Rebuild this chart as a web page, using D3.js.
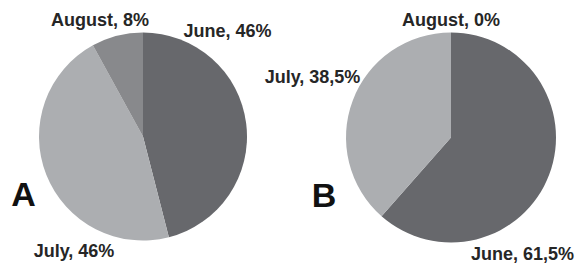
<!DOCTYPE html>
<html><head><meta charset="utf-8">
<script src="https://cdn.jsdelivr.net/npm/d3@7"></script>
<style>body{margin:0;background:#fff}svg{display:block}</style>
</head><body>
<script>
const months = ["June", "July", "August"];
const valuesA = [46, 46, 8];
const valuesB = [61.5, 38.5, 0];
const labelsA = ["June, 46%", "July, 46%", "August, 8%"];
const labelsB = ["June, 61,5%", "July, 38,5%", "August, 0%"];
const panelNames = ["A", "B"];

const W = 577, H = 266;
const svg = d3.select("body").append("svg").attr("width", W).attr("height", H);
const color = d3.scaleOrdinal().domain(months).range(["#67686c", "#acaeb1", "#88898c"]);
const pie = d3.pie().sort(null).value(d => d.v);

const panels = [
  {name: panelNames[0], values: valuesA, labels: labelsA, cx: 143, cy: 136.5, r: 104,
   letter: [23.5, 206],
   pos: [[227.5, 36.5], [74, 257], [100, 25.5]]},
  {name: panelNames[1], values: valuesB, labels: labelsB, cx: 451, cy: 137.5, r: 105,
   letter: [324, 206.5],
   pos: [[522.5, 260], [312.5, 83], [451, 26]]}
];

panels.forEach(p => {
  const data = months.map((m, i) => ({m, v: p.values[i]}));
  const arc = d3.arc().innerRadius(0).outerRadius(p.r);
  const g = svg.append("g").attr("transform", `translate(${p.cx},${p.cy})`);
  g.selectAll("path").data(pie(data)).join("path")
    .attr("d", arc).attr("fill", d => color(d.data.m));
  svg.append("text").attr("x", p.letter[0]).attr("y", p.letter[1])
    .attr("text-anchor", "middle")
    .style("font-family", "Liberation Sans, Arial, sans-serif")
    .style("font-weight", "bold").style("font-size", "34px").attr("fill", "#111")
    .text(p.name);
  p.labels.forEach((t, i) => {
    svg.append("text").attr("x", p.pos[i][0]).attr("y", p.pos[i][1])
      .attr("text-anchor", "middle")
      .style("font-family", "Liberation Sans, Arial, sans-serif")
      .style("font-weight", "bold").style("font-size", "18px").attr("fill", "#262626")
      .text(t);
  });
});
</script>
</body></html>
